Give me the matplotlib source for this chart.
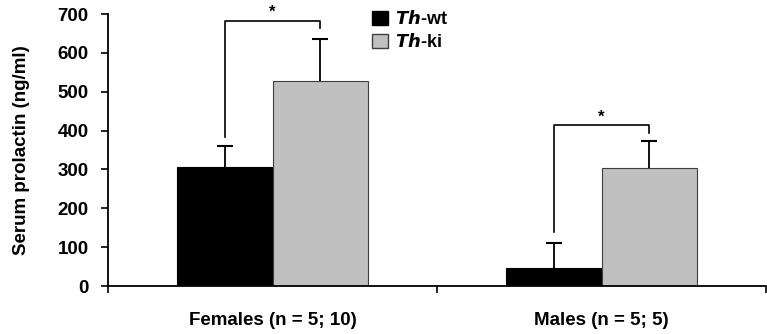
import matplotlib.pyplot as plt
from matplotlib.patches import Patch

plt.rcParams['font.family'] = ['Liberation Sans', 'DejaVu Sans']
plt.rcParams['font.weight'] = 'bold'
plt.rcParams['axes.labelweight'] = 'bold'

groups = ['Females (n = 5; 10)', 'Males (n = 5; 5)']
wt_mean = [307, 46]
wt_err = [53, 65]
ki_mean = [527, 303]
ki_err = [108, 70]
# significance brackets: left leg bottom, top, right leg bottom
brackets = [(383, 682, 663), (140, 414, 394)]

fig = plt.figure(figsize=(7.67, 3.34), dpi=100)
ax = fig.add_axes([0.1408, 0.1437, 0.858, 0.8143])

w = 0.29
cap = 0.025
centers = [0.5, 1.5]
xw = [c - w / 2 for c in centers]
xk = [c + w / 2 for c in centers]

ax.bar(xw, wt_mean, width=w, color='black', edgecolor='black', linewidth=0.8)
ax.bar(xk, ki_mean, width=w, color='#c0c0c0', edgecolor='#404040', linewidth=0.8)

# upper error bars only
for xs, m, e in [(xw, wt_mean, wt_err), (xk, ki_mean, ki_err)]:
    tops = [a + b for a, b in zip(m, e)]
    ax.vlines(xs, m, tops, color='black', lw=1.3)
    ax.hlines(tops, [x - cap for x in xs], [x + cap for x in xs], color='black', lw=1.5)

for i, (lo, top, lo2) in enumerate(brackets):
    ax.plot([xw[i], xw[i], xk[i], xk[i]], [lo, top, top, lo2], color='black', lw=1.2)
    ax.text((xw[i] + xk[i]) / 2, top + 2, '*', ha='center', va='bottom', fontsize=12)

ax.set_xlim(0, 2)
ax.set_ylim(0, 700)
ax.set_yticks(range(0, 701, 100))
ax.set_xticks([0, 1, 2])
ax.set_xticklabels([])
ax.set_xticks(centers, minor=True)
ax.set_xticklabels(groups, minor=True, fontsize=13.5)
ax.tick_params(axis='x', which='minor', length=0, pad=19)
ax.tick_params(axis='x', which='major', length=5, width=1.2, direction='out')
ax.tick_params(axis='y', length=5, width=1.2, direction='out', labelsize=13.5, pad=9)
for s in ['top', 'right']:
    ax.spines[s].set_visible(False)
for s in ['left', 'bottom']:
    ax.spines[s].set_linewidth(1.3)
ax.set_ylabel('Serum prolactin (ng/ml)', fontsize=13.5, labelpad=20)

handles = [Patch(facecolor='black', edgecolor='black'),
           Patch(facecolor='#c0c0c0', edgecolor='#404040')]
ax.legend(handles, [r'$\mathbf{\mathit{Th}}$-wt', r'$\mathbf{\mathit{Th}}$-ki'],
          loc='upper left', bbox_to_anchor=(0.388, 1.048), frameon=False,
          borderpad=0, fontsize=13, handlelength=0.85, handleheight=0.85,
          handletextpad=0.4, labelspacing=0.3)

fig.savefig('out.png', dpi=100)
